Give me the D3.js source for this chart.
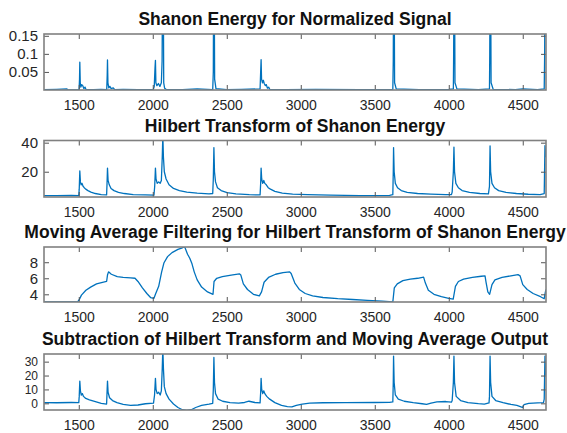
<!DOCTYPE html>
<html><head><meta charset="utf-8">
<script src="https://cdn.jsdelivr.net/npm/d3@7"></script>
<style>body{margin:0;background:#fff}svg{display:block;font-family:"Liberation Sans",Arial,sans-serif}</style>
</head><body><svg id="c" width="567" height="433"></svg>
<script>
// ---------- data ----------
const xDomain = [1265, 4657];
const xTicks = [1500, 2000, 2500, 3000, 3500, 4000, 4500];
const titles = [
  "Shanon Energy for Normalized Signal",
  "Hilbert Transform of Shanon Energy",
  "Moving Average Filtering for Hilbert Transform of Shanon Energy",
  "Subtraction of Hilbert Transform and Moving Average Output"
];
const yDomains = [[0, 0.155], [2.6, 41.5], [3.04, 9.9], [-4.8, 35.5]];
const yTicks1 = [0.05, 0.1, 0.15];
const yTicks2 = [20, 40];
const yTicks3 = [4, 6, 8];
const yTicks4 = [0, 10, 20, 30];

const shannon = [[1265,0.001],[1350,0.002],[1420,0.003],[1425,0.0],[1502,0.001],[1505,0.03],[1507,0.077],[1510,0.02],[1514,0.008],[1520,0.015],[1527,0.012],[1534,0.004],[1542,0.008],[1548,0.002],[1600,0.001],[1650,0.002],[1689,0.001],[1692,0.04],[1694,0.083],[1697,0.02],[1703,0.006],[1710,0.01],[1718,0.004],[1733,0.006],[1743,0.001],[1800,0.002],[1900,0.001],[2004,0.002],[2010,0.01],[2015,0.06],[2018,0.082],[2021,0.02],[2028,0.012],[2038,0.018],[2048,0.01],[2058,0.02],[2063,0.08],[2066,0.3],[2071,0.3],[2074,0.02],[2080,0.005],[2090,0.002],[2200,0.001],[2300,0.003],[2405,0.001],[2409,0.05],[2411,0.3],[2415,0.3],[2418,0.03],[2427,0.004],[2500,0.001],[2600,0.002],[2725,0.003],[2729,0.05],[2732,0.084],[2735,0.03],[2741,0.02],[2747,0.027],[2753,0.018],[2761,0.012],[2767,0.015],[2775,0.005],[2783,0.008],[2790,0.002],[2900,0.001],[3100,0.002],[3400,0.001],[3622,0.002],[3625,0.08],[3627,0.3],[3631,0.3],[3634,0.02],[3645,0.003],[3800,0.001],[4000,0.002],[4031,0.003],[4033,0.1],[4035,0.3],[4039,0.3],[4042,0.02],[4055,0.003],[4200,0.001],[4275,0.003],[4277,0.1],[4279,0.3],[4283,0.3],[4286,0.02],[4300,0.002],[4450,0.001],[4500,0.003],[4600,0.001],[4645,0.003],[4648,0.1],[4650,0.3],[4657,0.3]];

const hilbert = [[1265,3.6],[1350,3.5],[1450,3.7],[1500,3.6],[1503,8],[1507,20.5],[1511,13],[1516,11],[1522,12],[1529,10],[1537,9],[1547,8],[1562,7],[1582,6],[1612,5],[1652,4.3],[1688,4.0],[1691,12],[1694,22.5],[1698,14],[1706,11],[1718,8.5],[1738,7],[1768,5.8],[1808,5],[1868,4.3],[1950,4.0],[2008,3.9],[2013,10],[2018,22.5],[2022,15],[2030,12],[2040,13],[2050,12],[2058,14],[2064,30],[2068,45],[2072,30],[2078,20],[2090,15],[2110,11],[2140,8.5],[2180,7],[2230,6],[2300,5.2],[2380,4.8],[2405,5],[2409,15],[2413,36.6],[2417,20],[2424,13],[2437,9],[2462,7],[2502,5.6],[2562,4.8],[2652,4.2],[2725,4.0],[2729,12],[2732,22.5],[2736,15],[2743,12],[2750,14],[2757,12],[2767,11],[2780,9],[2795,8],[2825,6.5],[2875,5.3],[2945,4.6],[3045,4.2],[3200,3.9],[3400,3.6],[3600,3.7],[3622,4.2],[3625,20],[3627,36.6],[3631,20],[3639,12],[3654,9],[3679,7],[3719,5.8],[3789,5],[3879,4.6],[3979,4.3],[4018,4.2],[4023,6],[4031,20],[4035,37],[4039,20],[4048,12],[4065,9],[4090,7],[4140,5.8],[4210,5],[4268,4.7],[4275,10],[4279,37.7],[4283,20],[4292,12],[4309,9],[4337,7],[4387,5.8],[4457,5],[4537,4.5],[4617,4.3],[4645,5],[4650,38],[4657,30]];

const movAvg = [[1265,3.06],[1400,3.06],[1492,3.06],[1502,3.3],[1518,3.9],[1548,4.5],[1580,4.9],[1620,5.3],[1660,5.5],[1688,5.6],[1694,6.4],[1701,6.8],[1720,6.5],[1760,6.2],[1800,6.1],[1850,6.05],[1880,6.0],[1900,5.6],[1930,4.8],[1960,4.1],[1985,3.6],[2008,3.5],[2018,4.0],[2040,5.0],[2060,6.8],[2075,7.9],[2100,8.7],[2130,9.2],[2170,9.6],[2200,9.8],[2215,9.95],[2235,9.0],[2250,8.5],[2265,7.8],[2280,6.8],[2300,5.8],[2330,4.9],[2370,4.3],[2407,4.0],[2414,5.6],[2432,6.0],[2470,6.2],[2530,6.4],[2585,6.55],[2595,6.4],[2612,5.3],[2640,4.6],[2680,4.0],[2720,3.8],[2735,4.3],[2752,5.5],[2782,6.1],[2830,6.5],[2880,6.7],[2925,6.8],[2935,6.6],[2960,5.4],[2990,4.6],[3030,4.1],[3080,3.8],[3150,3.6],[3250,3.45],[3350,3.35],[3450,3.25],[3550,3.15],[3622,3.06],[3632,4.8],[3652,5.3],[3690,5.7],[3740,5.9],[3790,6.0],[3830,6.15],[3842,5.4],[3862,4.5],[3900,4.0],[3950,3.7],[4000,3.5],[4030,3.4],[4045,5.0],[4065,5.6],[4100,5.9],[4160,6.1],[4220,6.25],[4245,6.3],[4252,5.5],[4264,4.3],[4276,4.0],[4292,5.2],[4312,5.8],[4360,6.1],[4420,6.3],[4468,6.45],[4482,6.3],[4500,5.2],[4530,4.6],[4570,4.1],[4620,3.7],[4645,3.45],[4652,4.2],[4657,4.6]];

const subtraction = [[1265,0.5],[1350,0.4],[1450,0.6],[1500,0.5],[1503,5],[1507,16],[1511,9],[1517,6],[1524,7],[1532,5],[1547,3.5],[1572,2.5],[1612,1.2],[1652,0],[1688,-0.5],[1691,8],[1694,16],[1698,8],[1708,4],[1728,2],[1758,0.5],[1800,-0.8],[1850,-1.5],[1900,-1.2],[1950,-0.3],[2005,0.2],[2012,6],[2018,18],[2022,10],[2030,7],[2040,8],[2050,6],[2058,9],[2064,25],[2068,40],[2072,25],[2078,12],[2090,7],[2110,3],[2140,-0.5],[2170,-3],[2200,-4.6],[2230,-5],[2260,-4.6],[2290,-3],[2330,-1.5],[2380,-0.6],[2405,0],[2409,10],[2413,33],[2417,15],[2424,7],[2442,3],[2472,1.5],[2522,0.5],[2580,0.2],[2620,0.6],[2650,1.5],[2690,0.6],[2725,0.3],[2729,8],[2732,18],[2736,10],[2743,7],[2750,9],[2757,7],[2770,5],[2790,3],[2825,0.5],[2870,-1.5],[2910,-2.3],[2940,-2.5],[2970,-1.5],[3010,-0.5],[3060,0.2],[3150,0.4],[3300,0.5],[3500,0.6],[3600,0.7],[3622,1],[3625,15],[3627,34],[3631,15],[3639,6],[3659,3],[3699,1.5],[3760,0.5],[3820,-0.3],[3850,-0.8],[3880,0.2],[3920,1],[3980,1.3],[4018,0.8],[4023,2],[4031,15],[4035,34],[4039,15],[4050,5],[4080,2],[4130,0.5],[4200,-0.2],[4240,-0.5],[4272,0.3],[4275,5],[4279,34],[4283,15],[4292,5],[4317,2],[4367,0.5],[4420,-0.8],[4460,-1.5],[4488,-2.5],[4498,-3],[4508,-1],[4540,0],[4600,0.3],[4640,0.5],[4645,3],[4650,34],[4657,20]];

// ---------- layout ----------
const svg = d3.select("#c");
const L = 44, R = 546;
const boxes = [{top:34,bottom:90},{top:140.5,bottom:197},{top:247,bottom:302},{top:354,bottom:410}];
const series = [shannon, hilbert, movAvg, subtraction];
const yTickSets = [yTicks1, yTicks2, yTicks3, yTicks4];
const yFont = ["15px", "15px", "15px", "12px"];
const fmts = [d => (d===0.15?"0.15":d===0.1?"0.1":"0.05"), d3.format("d"), d3.format("d"), d3.format("d")];
const x = d3.scaleLinear().domain(xDomain).range([L, R]);

series.forEach((data, i) => {
  const b = boxes[i];
  const y = d3.scaleLinear().domain(yDomains[i]).range([b.bottom, b.top]);
  const g = svg.append("g");
  g.append("clipPath").attr("id", "clip" + i).append("rect")
    .attr("x", L).attr("y", b.top).attr("width", R - L).attr("height", b.bottom - b.top);
  g.append("path").datum(data)
    .attr("clip-path", "url(#clip" + i + ")")
    .attr("fill", "none").attr("stroke", "#0072BD").attr("stroke-width", 1.3)
    .attr("stroke-linejoin", "round")
    .attr("d", d3.line().x(d => x(d[0])).y(d => y(d[1])));

  const tl = 5;
  const ax = (size) => (sel) => { sel.select(".domain").remove(); sel.selectAll(".tick line").attr("stroke", "#555"); sel.selectAll("text").attr("fill", "#262626").style("font-size", size).style("font-family", '"Liberation Sans",Arial,sans-serif'); };
  g.append("g").attr("transform", `translate(0,${b.bottom})`)
    .call(d3.axisBottom(x).tickValues(xTicks).tickSizeInner(-tl).tickSizeOuter(0).tickPadding(10).tickFormat(d3.format("d"))).call(ax("14px"));
  g.append("g").attr("transform", `translate(0,${b.top})`)
    .call(d3.axisTop(x).tickValues(xTicks).tickSizeInner(-tl).tickSizeOuter(0).tickFormat("")).call(ax("14px"));
  g.append("g").attr("transform", `translate(${L},0)`)
    .call(d3.axisLeft(y).tickValues(yTickSets[i]).tickSizeInner(-tl).tickSizeOuter(0).tickPadding(6).tickFormat(fmts[i])).call(ax(yFont[i]));
  g.append("g").attr("transform", `translate(${R},0)`)
    .call(d3.axisRight(y).tickValues(yTickSets[i]).tickSizeInner(-tl).tickSizeOuter(0).tickFormat("")).call(ax("14px"));
  g.append("rect").attr("x", L).attr("y", b.top).attr("width", R - L).attr("height", b.bottom - b.top)
    .attr("fill", "none").attr("stroke", "#808080").attr("stroke-width", 1.6);
  g.append("text").attr("x", (L + R) / 2).attr("y", b.top - 9)
    .attr("text-anchor", "middle").attr("font-weight", "bold").attr("font-size", "17.5px")
    .attr("fill", "#111").text(titles[i]);
});
</script></body></html>
